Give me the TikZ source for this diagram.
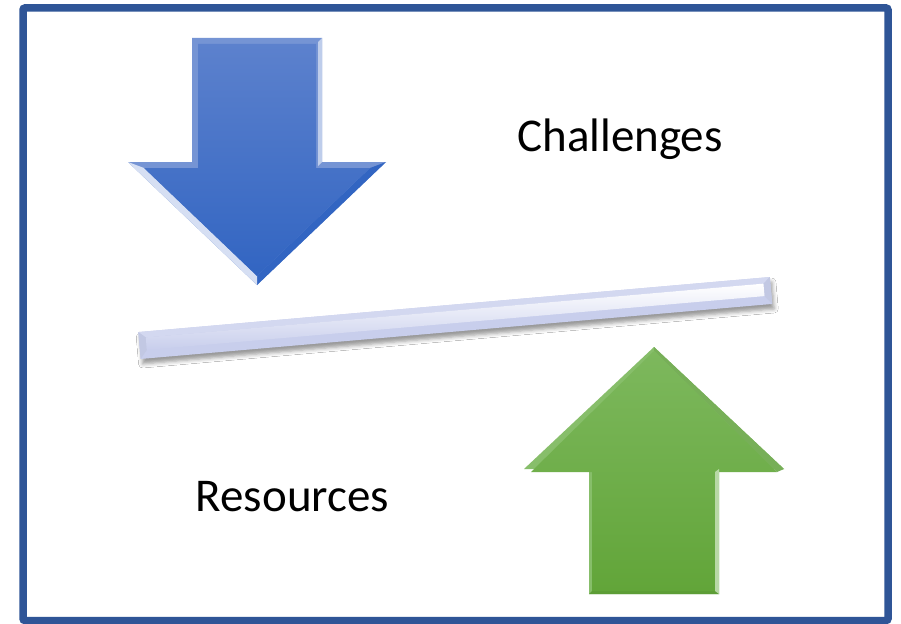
\documentclass[tikz,border=0pt]{standalone}
\usepackage{fontspec}
\setmainfont{Carlito}
\usepackage{tikz}
\usetikzlibrary{shadows.blur}
\definecolor{frameblue}{RGB}{47,85,151}
\definecolor{dnblue}{RGB}{92,129,205}
\definecolor{dnbluedark}{RGB}{50,101,194}
\definecolor{upgreen}{RGB}{125,184,93}
\definecolor{upgreendark}{RGB}{98,165,57}
\definecolor{barlav}{RGB}{200,206,236}
\tikzset{
    panelframe/.style={draw=frameblue, line width=7.5pt, rounded corners=2pt},
    downface/.style={top color=dnblue, bottom color=dnbluedark},
    upface/.style={top color=upgreen, bottom color=upgreendark},
    barbody/.style={fill=barlav, blur shadow={shadow xshift=2pt, shadow yshift=-5pt,
        shadow blur radius=4pt, shadow opacity=40}},
    bigtext/.style={font=\fontsize{47}{52}\selectfont, anchor=base, inner sep=0pt}
}

\begin{document}
\begin{tikzpicture}[x=1pt, y=-1pt]
    \useasboundingbox (0,0) rectangle (901,623);
    \fill[white] (0,0) rectangle (901,623);
    \draw[panelframe] (23,8) rectangle (888,620.5);

    % down arrow with bevelled rim
    \fill[dnblue!85!white] (192,38) -- (322,38) -- (322,162) -- (386,162) -- (257,285)
        -- (128,162) -- (192,162) -- cycle;
    \fill[dnbluedark] (386,162) -- (257,285) -- (257,276) -- (370,168) -- cycle;
    \fill[white!75!dnblue] (128,162) -- (257,285) -- (257,276) -- (144,168) -- cycle;
    \fill[white!60!dnblue] (318,42) -- (322,38) -- (322,162) -- (318,166) -- cycle;
    \shade[downface] (198,44) -- (316,44) -- (316,168) -- (370,168) -- (257,276)
        -- (144,168) -- (198,168) -- cycle;

    % up arrow
    \fill[upgreen!92!white] (654,347) -- (784,469) -- (719,469) -- (719,594) -- (589,594)
        -- (589,469) -- (524,469) -- cycle;
    \fill[upgreendark!95!black] (719,594) -- (589,594) -- (592,591) -- (716,591) -- cycle;
    \fill[upgreen!95!black] (654,347) -- (784,469) -- (777,472) -- (654,351) -- cycle;
    \shade[upface] (654,351) -- (777,472) -- (716,472) -- (716,591) -- (592,591)
        -- (592,472) -- (531,472) -- cycle;
    \fill[white!45!upgreen] (715,472) -- (719,469) -- (719,594) -- (715,591) -- cycle;

    % tilted balance bar
    \begin{scope}[shift={(455.25,318)}, rotate=4.98]
        \path[barbody] (-317,-13.5) rectangle (317,13.5);
        \fill[barlav!80!white] (-317,-13.5) -- (317,-13.5) -- (310,-7.5) -- (-310,-7.5) -- cycle;
        \fill[barlav!92!gray] (-317,-13.5) -- (-310,-7.5) -- (-310,5) -- (-317,13.5) -- cycle;
        \fill[barlav!92!gray] (317,-13.5) -- (310,-7.5) -- (310,5) -- (317,13.5) -- cycle;
        \shade[top color=white, bottom color=barlav] (-310,-7.5) rectangle (310,5);
    \end{scope}

    \node[bigtext] (challenges) at (620,151) {Challenges};
    \node[bigtext] (resources) at (292.5,511) {Resources};
\end{tikzpicture}
\end{document}
